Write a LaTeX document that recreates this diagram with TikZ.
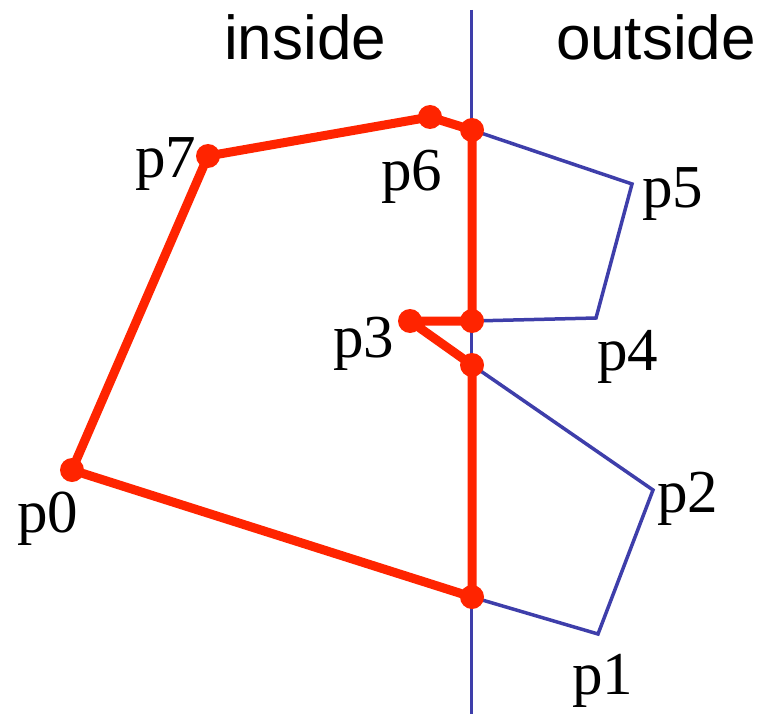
\documentclass[tikz,border=0pt]{standalone}
\usepackage{fontspec}
\newfontfamily\labelserif{Liberation Serif}
\newfontfamily\labelsans{Liberation Sans}
\definecolor{clipred}{RGB}{255,36,0}
\definecolor{clipblue}{RGB}{62,62,170}

\begin{document}
\begin{tikzpicture}[x=1pt,y=-1pt,
    edge/.style={clipblue,line width=3.5pt,line join=miter},
    kept/.style={clipred,line width=9pt,line join=round},
    vtx/.style={circle,fill=clipred,inner sep=0pt,minimum size=24pt},
    plabel/.style={anchor=base west,inner sep=0pt,font=\labelserif\fontsize{61}{61}\selectfont},
    side/.style={anchor=base,inner sep=0pt,font=\labelsans\fontsize{62}{62}\selectfont}]
    \useasboundingbox (0,0) rectangle (770,714);
    % Polygon gegen die Kante x = 472 geschnitten.
    \coordinate (top) at (471,10);
    \coordinate (bot) at (471,714);
    \coordinate (p0) at (72,470);
    \coordinate (p1) at (598,634);
    \coordinate (p2) at (653,490);
    \coordinate (p3) at (410,321);
    \coordinate (p4) at (596,318);
    \coordinate (p5) at (632,184);
    \coordinate (p6) at (430,117);
    \coordinate (p7) at (208,156);
    \coordinate (i1) at (472,597);
    \coordinate (i2) at (472,365);
    \coordinate (i3) at (472,321);
    \coordinate (i4) at (472,130);
    \draw[clipblue,line width=3pt] (top) -- (bot);
    \draw[edge] (i1) -- (p1) -- (p2) -- (i2);
    \draw[edge] (i3) -- (p4) -- (p5) -- (i4);
    \draw[kept] (p0) -- (i1) -- (i2) -- (p3) -- (i3) -- (i4) -- (p6) -- (p7) -- cycle;
    \foreach \v in {p0,i1,i2,p3,i3,i4,p6,p7}{\node[vtx] (d\v) at (\v) {};}
    \node[side] (inside) at (305,60) {inside};
    \node[side] (outside) at (656,60) {outside};
    \node[plabel] (l0) at (17,532) {p0};
    \node[plabel] (l1) at (572,694) {p1};
    \node[plabel] (l2) at (657,512) {p2};
    \node[plabel] (l3) at (333,357) {p3};
    \node[plabel] (l4) at (597,370) {p4};
    \node[plabel] (l5) at (642,207) {p5};
    \node[plabel] (l6) at (381,190) {p6};
    \node[plabel] (l7) at (135,178) {p7};
  \end{tikzpicture}
\end{document}
